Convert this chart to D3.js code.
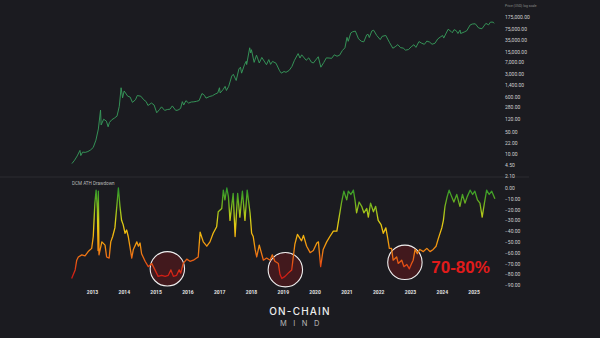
<!DOCTYPE html>
<html><head><meta charset="utf-8">
<script src="https://cdn.jsdelivr.net/npm/d3@7"></script>
<style>html,body{margin:0;padding:0;background:#1b1b20;} svg{display:block}</style>
</head><body><svg id="c" width="600" height="338"></svg>
<script>
// ---------- DATA ----------
const priceDates = ["2012-05-15","2012-06-15","2012-07-15","2012-08-15","2012-08-25","2012-09-15","2012-10-15","2012-11-15","2012-12-15",
"2013-01-15","2013-02-15","2013-03-15","2013-04-09","2013-04-16","2013-05-15","2013-06-15","2013-07-05","2013-07-20","2013-08-15","2013-09-15","2013-10-15","2013-11-10","2013-12-01","2013-12-18",
"2014-01-05","2014-02-15","2014-03-15","2014-04-10","2014-05-15","2014-06-05","2014-07-15","2014-08-18","2014-09-15","2014-10-05","2014-11-15","2014-12-15",
"2015-01-14","2015-02-15","2015-03-10","2015-04-15","2015-05-15","2015-06-15","2015-07-12","2015-08-20","2015-09-15","2015-10-15","2015-11-04","2015-11-20","2015-12-15",
"2016-01-15","2016-02-15","2016-03-15","2016-04-15","2016-05-15","2016-06-17","2016-07-15","2016-08-02","2016-09-15","2016-10-15","2016-11-15","2016-12-15",
"2017-01-04","2017-01-12","2017-02-15","2017-03-10","2017-03-25","2017-04-20","2017-05-25","2017-06-12","2017-07-15","2017-08-15","2017-09-02","2017-09-15","2017-10-20","2017-11-08","2017-11-12","2017-12-17","2017-12-28",
"2018-01-06","2018-02-06","2018-03-05","2018-04-06","2018-05-05","2018-06-28","2018-07-24","2018-08-14","2018-09-05","2018-10-15","2018-11-25","2018-12-15",
"2019-01-15","2019-02-07","2019-03-15","2019-04-15","2019-05-15","2019-06-26","2019-07-17","2019-08-06","2019-09-26","2019-10-26","2019-11-25","2019-12-18",
"2020-02-12","2020-03-13","2020-04-15","2020-05-15","2020-06-15","2020-07-15","2020-08-15","2020-09-15","2020-10-15","2020-11-15","2020-12-15",
"2021-01-08","2021-01-22","2021-02-20","2021-03-13","2021-04-14","2021-05-20","2021-06-22","2021-07-20","2021-08-22","2021-09-07","2021-09-21","2021-10-20","2021-11-10","2021-12-15",
"2022-01-24","2022-02-15","2022-03-29","2022-05-12","2022-06-18","2022-07-15","2022-08-14","2022-09-15","2022-10-15","2022-11-10","2022-12-15",
"2023-01-15","2023-02-15","2023-03-10","2023-04-14","2023-05-15","2023-06-15","2023-07-13","2023-08-15","2023-09-11","2023-10-15","2023-11-15","2023-12-15",
"2024-01-11","2024-01-23","2024-02-15","2024-03-14","2024-04-15","2024-05-01","2024-05-21","2024-06-15","2024-07-05","2024-07-29","2024-08-05","2024-09-15","2024-10-15","2024-11-22","2024-12-17",
"2025-01-20","2025-02-28","2025-04-07","2025-05-22","2025-06-22","2025-07-14","2025-08-14","2025-08-25"];
const priceValues = [5.1,6.5,8.8,13,9,11.5,11.3,12,13.4,
16,27,60,230,80,120,105,70,95,115,130,150,300,1130,550,
900,620,580,400,480,650,620,480,420,320,380,330,
190,240,290,225,240,245,310,225,230,260,420,330,450,
380,410,415,430,455,750,660,540,610,640,720,780,
1130,780,1000,1250,930,1250,2600,2950,1900,4300,4900,3200,6000,7500,5900,19500,13500,
17000,6900,11500,6600,9800,5850,8400,6000,7400,6500,3800,3200,
3600,3400,3900,5100,8000,12900,9400,11800,8000,9500,7000,6600,
10300,4900,6800,9500,9400,9200,11800,10700,11500,16000,19500,
41000,31000,56000,61000,64000,37000,31000,29800,49000,51000,40500,65000,68000,47000,
35000,44000,47000,28000,18900,21000,24400,19700,19100,16500,17200,
21000,24300,20100,30400,27000,25000,31400,29200,25100,27000,36500,42000,
46800,39000,52000,73000,63000,57000,71000,66000,54000,69000,54000,60000,66000,99000,106000,
108000,80000,76000,111000,100000,122000,121000,111000];

const ddYears = [2012.36,2012.47,2012.52,2012.57,2012.68,2012.78,2012.88,2012.99,2013.04,2013.09,2013.13,2013.17,2013.19,2013.20,2013.22,
2013.31,2013.41,2013.46,2013.54,2013.59,2013.65,2013.72,2013.78,2013.83,2013.88,2013.93,2013.98,
2014.04,2014.09,2014.14,2014.19,2014.25,2014.30,2014.41,2014.46,2014.51,2014.56,2014.67,2014.77,2014.88,2014.98,
2015.08,2015.19,2015.30,2015.40,2015.48,2015.56,2015.66,2015.74,2015.79,2015.87,2015.98,
2016.08,2016.19,2016.29,2016.34,2016.40,2016.50,2016.61,2016.71,2016.81,2016.92,2016.97,
2017.08,2017.13,2017.18,2017.24,2017.29,2017.34,2017.44,2017.50,2017.58,2017.65,2017.73,2017.81,2017.88,2017.97,
2018.02,2018.07,2018.13,2018.18,2018.26,2018.39,2018.49,2018.60,2018.67,2018.75,2018.86,2018.91,2018.97,
2019.07,2019.17,2019.28,2019.33,2019.38,2019.46,2019.59,2019.65,2019.75,2019.86,2019.96,
2020.07,2020.12,2020.19,2020.27,2020.38,2020.48,2020.59,2020.70,2020.75,2020.85,2020.92,
2021.01,2021.06,2021.14,2021.22,2021.27,2021.32,2021.40,2021.48,2021.55,2021.64,2021.69,2021.76,2021.85,2021.92,
2022.00,2022.09,2022.16,2022.24,2022.29,2022.35,2022.42,2022.47,2022.58,2022.63,2022.74,2022.81,2022.90,2022.98,
2023.05,2023.10,2023.16,2023.23,2023.31,2023.42,2023.53,2023.63,2023.73,2023.82,2023.89,
2024.00,2024.05,2024.10,2024.17,2024.23,2024.31,2024.38,2024.47,2024.57,2024.65,2024.73,2024.80,2024.89,2024.97,
2025.04,2025.12,2025.20,2025.27,2025.34,2025.41,2025.49,2025.57,2025.67];
const ddValues = [-84,-76,-67,-64,-62,-63,-59,-56,-45,-14,-2,-20,-58,-3,-62,
-50,-53,-64,-65,-50,-45,-37,-17,0,-17,-30,-34,
-42,-39,-45,-54,-65,-57,-50,-54,-51,-61,-68,-73,-70,-76,
-82,-81,-82,-81,-76,-82,-81,-76,-79,-70,-66,
-68,-67,-65,-64,-41,-50,-54,-50,-42,-36,-22,
-19,-2,-11,0,-8,-30,-5,-45,-5,-27,-3,-30,-2,-23,
-42,-45,-57,-64,-53,-67,-65,-67,-62,-68,-70,-80,-84,
-82,-79,-76,-64,-52,-43,-49,-44,-54,-60,-58,
-51,-50,-73,-57,-50,-45,-40,-40,-31,-13,-3,
-11,-3,-6,-2,-11,-23,-13,-17,-23,-19,-27,-14,-22,-17,
-30,-34,-42,-37,-45,-56,-56,-67,-64,-70,-67,-73,-71,-75,
-70,-67,-57,-61,-57,-59,-56,-59,-57,-54,-47,
-37,-30,-17,-8,-2,-8,-13,-6,-17,-6,-14,-8,-2,-6,
-3,-11,-14,-27,-14,-2,-6,-3,-10];

const priceTicks = [175000,75000,35000,15000,7000,3000,1400,600,280,120,50,22,10,4.5,2.1];
const ddTicks = [0,-10,-20,-30,-40,-50,-60,-70,-80,-90];
const yearTicks = [2013,2014,2015,2016,2017,2018,2019,2020,2021,2022,2023,2024,2025];
const highlightYears = [2015.37, 2019.08, 2022.84];
const highlightValues = [-75, -75.8, -69];
const annotationLabel = "70-80%";
const annotationYear = 2023.67;
const annotationValue = -79;
const panelTitle = "DCM ATH Drawdown";

// ---------- CHART ----------
const svg = d3.select("#c");
svg.append("rect").attr("width",600).attr("height",338).attr("fill","#1b1b20");

const parse = d3.timeParse("%Y-%m-%d");
const toYear = s => { const d = parse(s); const y = d.getFullYear();
  const a = new Date(y,0,1), b = new Date(y+1,0,1); return y + (d-a)/(b-a); };
const price = priceDates.map((s,i)=>({t:toYear(s), v:priceValues[i]}));
const dd = ddYears.map((t,i)=>({t, v:ddValues[i]}));

const x = d3.scaleLinear().domain([2013,2025]).range([92,473.6]);
const yP = d3.scaleLog().domain([2.1,175000]).range([176,17]);
const yD = d3.scaleLinear().domain([0,-90]).range([188,285]);

// separator
svg.append("line").attr("x1",0).attr("x2",529).attr("y1",177).attr("y2",177)
  .attr("stroke","#303036").attr("stroke-width",0.8);

// price line
svg.append("path").datum(price)
  .attr("d", d3.line().x(d=>x(d.t)).y(d=>yP(d.v)))
  .attr("fill","none").attr("stroke","#36985a").attr("stroke-width",0.95)
  .attr("stroke-linejoin","round");

// gradient for drawdown
const defs = svg.append("defs");
const grad = defs.append("linearGradient").attr("id","ddg")
  .attr("gradientUnits","userSpaceOnUse")
  .attr("x1",0).attr("x2",0).attr("y1",yD(0)).attr("y2",yD(-90));
const stops = [[0,"#2f9a2c"],[-10,"#55a822"],[-20,"#94c01c"],[-30,"#d2cf18"],[-40,"#f0c010"],
  [-50,"#f2a00e"],[-60,"#ef7c14"],[-70,"#e65414"],[-80,"#d42016"],[-90,"#c01010"]];
stops.forEach(([v,c])=>grad.append("stop").attr("offset",(v/-90)).attr("stop-color",c));

// highlight circles (behind line)
const circ = svg.append("g");
highlightYears.forEach((t,i)=>{
  circ.append("circle").attr("cx",x(t)).attr("cy",yD(highlightValues[i])).attr("r",17.2)
    .attr("fill","rgba(105,24,26,0.5)").attr("stroke","#eeeeee").attr("stroke-width",1.1);
});

// drawdown line
svg.append("path").datum(dd)
  .attr("d", d3.line().x(d=>x(d.t)).y(d=>yD(d.v)))
  .attr("fill","none").attr("stroke","url(#ddg)").attr("stroke-width",1.3)
  .attr("stroke-linejoin","round");

// axes
const axFont = "Roboto, 'DejaVu Sans', sans-serif";
const gP = svg.append("g").attr("transform","translate(503,0)")
  .call(d3.axisRight(yP).tickValues(priceTicks).tickSize(0).tickPadding(2).tickFormat(d3.format(",.2f")));
const gD = svg.append("g").attr("transform","translate(503,0)")
  .call(d3.axisRight(yD).tickValues(ddTicks).tickSize(0).tickPadding(2).tickFormat(d3.format(".2f")));
[gP,gD].forEach(g=>{ g.select(".domain").remove();
  g.selectAll("text").attr("fill","#d0d0d0").style("font-size","5px").style("font-family",axFont); });

const gX = svg.append("g").attr("transform","translate(0,290)")
  .call(d3.axisBottom(x).tickValues(yearTicks).tickSize(0).tickPadding(0).tickFormat(d3.format("d")));
gX.select(".domain").remove();
gX.selectAll("text").attr("fill","#e0e0e0").style("font-size","5px").style("font-weight","700").style("font-family",axFont);

// small titles
svg.append("text").attr("x",72).attr("y",185).text(panelTitle)
  .attr("fill","#b8b8b8").style("font-size","4.6px").style("font-family",axFont);
svg.append("text").attr("x",505).attr("y",7).text("Price (USD) log scale")
  .attr("fill","#8a8a8a").style("font-size","3.4px").style("font-family",axFont);

// annotation
svg.append("text").attr("x",x(annotationYear)).attr("y",yD(annotationValue)).text(annotationLabel)
  .attr("fill","#e11b1b").style("font-size","17px").style("font-weight","700")
  .style("font-family","'Liberation Sans', Arial, sans-serif");

// footer
svg.append("text").attr("x",300).attr("y",315).attr("text-anchor","middle").text("ON-CHAIN")
  .attr("fill","#ececec").style("font-size","10px").style("font-weight","500")
  .style("letter-spacing","1.2px").style("font-family","Inter, Lato, sans-serif");
svg.append("text").attr("x",303).attr("y",325.5).attr("text-anchor","middle").text("MIND")
  .attr("fill","#b5b5b5").style("font-size","7.5px").style("font-weight","400")
  .style("letter-spacing","6.5px").style("font-family","Inter, Lato, sans-serif");
</script></body></html>
